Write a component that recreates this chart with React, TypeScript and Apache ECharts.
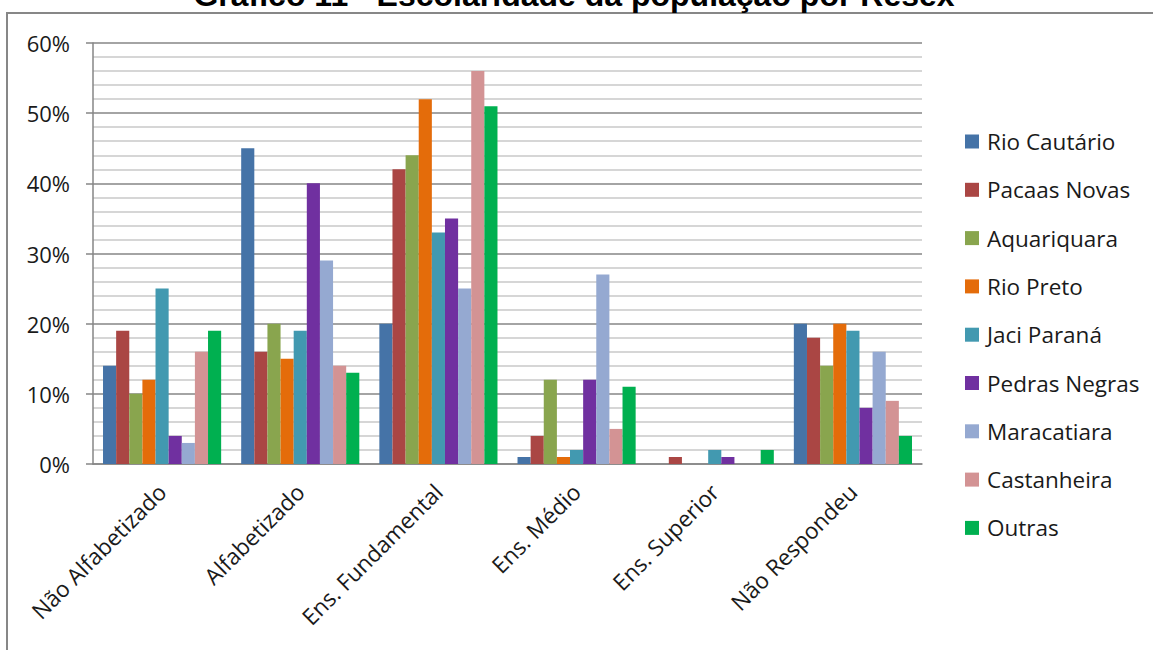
import React, { useEffect, useRef } from "react";
import * as echarts from "echarts";

// Escolaridade por Resex (%)
const categories = [
  "Não Alfabetizado",
  "Alfabetizado",
  "Ens. Fundamental",
  "Ens. Médio",
  "Ens. Superior",
  "Não Respondeu",
];

const seriesNames = [
  "Rio Cautário",
  "Pacaas Novas",
  "Aquariquara",
  "Rio Preto",
  "Jaci Paraná",
  "Pedras Negras",
  "Maracatiara",
  "Castanheira",
  "Outras",
];

const rioCautario = [14, 45, 20, 1, 0, 20];
const pacaasNovas = [19, 16, 42, 4, 1, 18];
const aquariquara = [10, 20, 44, 12, 0, 14];
const rioPreto = [12, 15, 52, 1, 0, 20];
const jaciParana = [25, 19, 33, 2, 2, 19];
const pedrasNegras = [4, 40, 35, 12, 1, 8];
const maracatiara = [3, 29, 25, 27, 0, 16];
const castanheira = [16, 14, 56, 5, 0, 9];
const outras = [19, 13, 51, 11, 2, 4];

const seriesValues = [
  rioCautario,
  pacaasNovas,
  aquariquara,
  rioPreto,
  jaciParana,
  pedrasNegras,
  maracatiara,
  castanheira,
  outras,
];

const palette = [
  "#4573A7",
  "#AA4644",
  "#89A54E",
  "#E46C0A",
  "#4299B0",
  "#7030A0",
  "#95A9D1",
  "#D39394",
  "#00B050",
];

const yTicks = [0, 10, 20, 30, 40, 50, 60];

const titleText = "Gráfico 11 - Escolaridade da população por Resex";

const FONT = "'Open Sans', sans-serif";

export default function App() {
  const ref = useRef<HTMLDivElement>(null);

  useEffect(() => {
    if (!ref.current) return;
    const chart = echarts.init(ref.current, undefined, { renderer: "svg" });

    chart.setOption({
      animation: false,
      backgroundColor: "#ffffff",
      color: palette,
      textStyle: { fontFamily: FONT },
      graphic: [
        {
          type: "rect",
          shape: { x: 7, y: 13, width: 1160, height: 700 },
          style: { fill: "none", stroke: "#878787", lineWidth: 2 },
          silent: true,
        },
        {
          type: "text",
          x: 574,
          y: 11,
          style: {
            text: titleText,
            font: "bold 32px 'Liberation Sans', Arial, sans-serif",
            fill: "#000000",
            align: "center",
            verticalAlign: "bottom",
          },
          silent: true,
        },
      ],
      legend: {
        orient: "vertical",
        left: 965,
        top: 130,
        padding: 0,
        icon: "rect",
        itemWidth: 14,
        itemHeight: 14,
        itemGap: 25.3,
        data: seriesNames,
        textStyle: {
          fontFamily: FONT,
          fontSize: 22.5,
          color: "#1a1a1a",
          lineHeight: 23,
          padding: [0, 0, 0, 3],
        },
      },
      grid: {
        left: 93,
        right: 231,
        top: 43,
        bottom: 186,
        containLabel: false,
      },
      xAxis: {
        type: "category",
        data: categories,
        axisLine: { show: true, lineStyle: { color: "#868686", width: 1.5 } },
        axisTick: { show: false },
        axisLabel: {
          rotate: 45,
          margin: 24,
          interval: 0,
          fontFamily: FONT,
          fontSize: 22.5,
          color: "#1a1a1a",
        },
        splitLine: { show: false },
      },
      yAxis: {
        type: "value",
        min: yTicks[0],
        max: yTicks[yTicks.length - 1],
        interval: 10,
        axisLine: { show: true, lineStyle: { color: "#868686", width: 1.5 } },
        axisTick: {
          show: true,
          length: 7,
          lineStyle: { color: "#868686", width: 1.5 },
        },
        axisLabel: {
          formatter: "{value}%",
          margin: 23,
          fontFamily: FONT,
          fontSize: 22,
          color: "#1a1a1a",
        },
        splitLine: { show: true, lineStyle: { color: "#868686", width: 1.5 } },
        minorTick: { show: false, splitNumber: 5 },
        minorSplitLine: {
          show: true,
          lineStyle: { color: "#c8c8c8", width: 1.5 },
        },
      },
      series: seriesNames.map((name, i) => ({
        name,
        type: "bar",
        data: seriesValues[i],
        barGap: "0%",
        barCategoryGap: "14.5%",
        itemStyle: { color: palette[i] },
      })),
    });

    return () => chart.dispose();
  }, []);

  return (
    <div
      ref={ref}
      style={{
        position: "absolute",
        left: 0,
        top: 0,
        width: 1153,
        height: 650,
      }}
    />
  );
}
